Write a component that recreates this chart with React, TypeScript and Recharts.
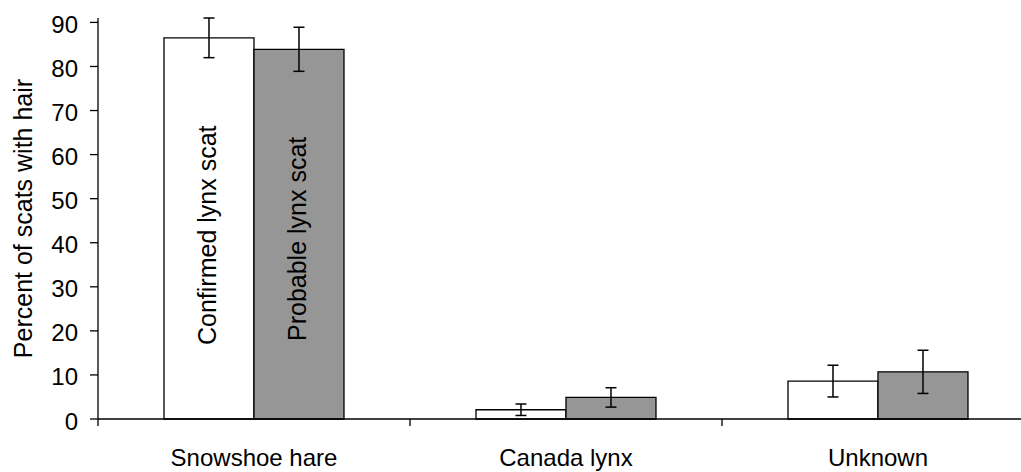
import React from 'react';
import { BarChart, Bar, XAxis, YAxis, ErrorBar } from 'recharts';

const categories = ['Snowshoe hare', 'Canada lynx', 'Unknown'];
const confirmedValues = [86.5, 2.1, 8.6];
const confirmedErrors = [4.5, 1.3, 3.6];
const probableValues = [83.9, 4.9, 10.7];
const probableErrors = [5.0, 2.2, 4.9];
const seriesNames = ['Confirmed lynx scat', 'Probable lynx scat'];
const yTicks = [0, 10, 20, 30, 40, 50, 60, 70, 80, 90];
const yAxisTitle = 'Percent of scats with hair';

const data = categories.map((c, i) => ({
  category: c,
  confirmed: confirmedValues[i],
  confirmedErr: confirmedErrors[i],
  probable: probableValues[i],
  probableErr: probableErrors[i],
}));

const FONT = '"Liberation Sans", Arial, sans-serif';
const X_TICK_SIZE = 7;
const X_TICK_MARGIN = 23;

const XTick = (props: any) => {
  const { x, y, payload } = props;
  const half = payload && typeof payload.offset === 'number' && payload.offset > 0 ? payload.offset : 156;
  const axisY = y - X_TICK_SIZE - X_TICK_MARGIN;
  return (
    <g>
      <line x1={x - half} x2={x - half} y1={axisY} y2={axisY + X_TICK_SIZE} stroke="#000" strokeWidth={1.3} />
      <text x={x} y={y} dy="0.71em" textAnchor="middle" fontSize={24} fill="#000" fontFamily={FONT}>
        {payload.value}
      </text>
    </g>
  );
};

const YTick = (props: any) => {
  const { x, y, payload } = props;
  return (
    <text x={x} y={y + 2} dy="0.355em" textAnchor="end" fontSize={24} fill="#000" fontFamily={FONT}>
      {payload.value}
    </text>
  );
};

const renderYTitle = (props: any) => {
  const vb = props.viewBox || { x: 0, y: 18, width: 98, height: 401 };
  const px = vb.x + 32;
  const py = vb.y + vb.height / 2;
  return (
    <text
      x={px}
      y={py}
      transform={`rotate(-90, ${px}, ${py})`}
      textAnchor="middle"
      fontSize={25}
      fill="#000"
      fontFamily={FONT}
    >
      {yAxisTitle}
    </text>
  );
};

const makeBarLabel = (name: string, drop: number) => (props: any) => {
  if (props.index !== 0) return null;
  const vb = props.viewBox || props;
  const x = vb.x ?? props.x;
  const y = vb.y ?? props.y;
  const w = vb.width ?? props.width;
  const h = vb.height ?? props.height;
  const px = x + w / 2 + 7;
  const py = y + h - drop;
  return (
    <text
      x={px}
      y={py}
      transform={`rotate(-90, ${px}, ${py})`}
      textAnchor="start"
      fontSize={25}
      fill="#000"
      fontFamily={FONT}
    >
      {name}
    </text>
  );
};

export default function App() {
  return (
    <div style={{ position: 'absolute', left: 0, top: 0, width: 1021, height: 472, overflow: 'hidden', background: '#fff' }}>
      <BarChart
        width={1040}
        height={472}
        data={data}
        margin={{ top: 18, right: 6, bottom: 3, left: 0 }}
        barCategoryGap="21.15%"
        barGap={0}
        style={{ fontFamily: FONT }}
      >
        <XAxis
          dataKey="category"
          interval={0}
          height={50}
          tickLine={false}
          tickSize={X_TICK_SIZE}
          tickMargin={X_TICK_MARGIN}
          axisLine={{ stroke: '#000', strokeWidth: 1.3 }}
          tick={(p: any) => <XTick {...p} />}
        />
        <YAxis
          width={98}
          domain={[0, 90]}
          ticks={yTicks}
          interval={0}
          tickSize={8}
          tickMargin={12}
          axisLine={{ stroke: '#000', strokeWidth: 1.3 }}
          tickLine={{ stroke: '#000', strokeWidth: 1.3 }}
          tick={(p: any) => <YTick {...p} />}
          label={renderYTitle}
        />
        <Bar
          dataKey="confirmed"
          fill="#ffffff"
          stroke="#000"
          strokeWidth={1.3}
          isAnimationActive={false}
          label={makeBarLabel(seriesNames[0], 74)}
        >
          <ErrorBar dataKey="confirmedErr" width={5.5} stroke="#000" strokeWidth={1.5} direction="y" />
        </Bar>
        <Bar
          dataKey="probable"
          fill="#969696"
          stroke="#000"
          strokeWidth={1.3}
          isAnimationActive={false}
          label={makeBarLabel(seriesNames[1], 78)}
        >
          <ErrorBar dataKey="probableErr" width={5.5} stroke="#000" strokeWidth={1.5} direction="y" />
        </Bar>
      </BarChart>
    </div>
  );
}
